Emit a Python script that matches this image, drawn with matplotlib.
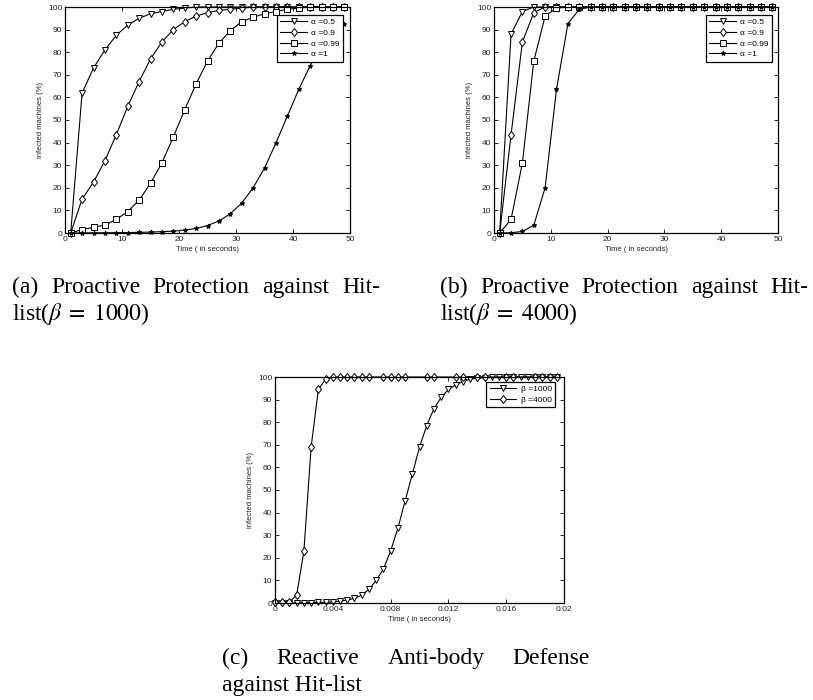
import numpy as np
import matplotlib
matplotlib.use("Agg")
import matplotlib.pyplot as plt

plt.rcParams['font.family'] = ['Liberation Sans', 'DejaVu Sans']
plt.rcParams['mathtext.fontset'] = 'stix'

# %% data
t_ab = list(range(1, 50, 2))
alpha_labels = ['\u03b1 =0.5', '\u03b1 =0.9', '\u03b1 =0.99', '\u03b1 =1']

a_05 = [0, 62, 73, 81, 87.5, 92, 95, 97, 98, 99, 99.5] + [100] * 14
a_09 = [0, 15, 22.5, 32, 43.5, 56, 67, 77, 84.5, 90, 93.5, 96, 97.5, 98.5, 99, 99.5] + [100] * 9
a_099 = [0, 1.5, 2.5, 3.5, 6, 9.5, 14.5, 22, 31, 42.5, 54.5, 66, 76, 84, 89.5, 93.5,
         95.5, 97, 98, 99, 99.5, 100, 100, 100, 100]
a_1 = [0, 0, 0.1, 0.1, 0.15, 0.2, 0.3, 0.4, 0.6, 0.8, 1.3, 2, 3.3, 5.3, 8.5, 13.2,
       20, 28.7, 39.8, 51.6, 63.5, 74, 83, 89, 92.5]

b_05 = [0, 88, 98] + [100] * 22
b_09 = [0, 43.5, 84.5, 97.5] + [100] * 21
b_099 = [0, 6, 31, 76, 96, 99.5] + [100] * 19
b_1 = [0, 0.1, 0.7, 3.4, 20, 63.5, 92.5, 99] + [100] * 17

t_c1 = [0, 0.0005, 0.001, 0.0015, 0.002, 0.0025, 0.003, 0.0035, 0.004, 0.0045,
        0.005, 0.0055, 0.006, 0.0065, 0.007, 0.0075, 0.008, 0.0085, 0.009, 0.0095,
        0.01, 0.0105, 0.011, 0.0115, 0.012, 0.0125, 0.013, 0.0135, 0.014, 0.0145,
        0.015, 0.0155, 0.016, 0.0165, 0.017, 0.0175, 0.018, 0.0185, 0.019, 0.0195]
c_1000 = [0, 0, 0, 0.05, 0.1, 0.15, 0.25, 0.35, 0.5, 0.8, 1.3, 2, 3.5, 6, 10, 15,
          23, 33, 45, 57, 69, 78.5, 86, 91, 94.5, 96.5, 98, 99, 99.5, 99.7, 99.8, 99.9] + [100] * 8
t_c4 = [0, 0.0005, 0.001, 0.0015, 0.002, 0.0025, 0.003, 0.0035, 0.004, 0.0045,
        0.005, 0.0055, 0.006, 0.0065, 0.0075, 0.008, 0.0085, 0.009, 0.0105, 0.011,
        0.0125, 0.013, 0.014, 0.0145, 0.016, 0.0165, 0.018, 0.0185, 0.019, 0.0195]
c_4000 = [0.3, 0.3, 0.5, 3.5, 23, 69, 94.5, 99] + [100] * 22

markers = ['v', 'd', 's', '*']

cap_a = ['(a)', 'Proactive', 'Protection', 'against', 'Hit-']
cap_a2 = r'list($\beta\;=\;1000$)'
cap_b = ['(b)', 'Proactive', 'Protection', 'against', 'Hit-']
cap_b2 = r'list($\beta\;=\;4000$)'
cap_c = ['(c)', 'Reactive', 'Anti-body', 'Defense']
cap_c2 = 'against Hit-list'

# %% figure
W, H = 813, 700
fig = plt.figure(figsize=(W / 100, H / 100), dpi=100)


def px_axes(x0, y0, x1, y1):
    return fig.add_axes([x0 / W, 1 - y1 / H, (x1 - x0) / W, (y1 - y0) / H])


def style(ax, xmax, xticks, xticklabels):
    ax.set_xlim(0, xmax)
    ax.set_ylim(0, 100)
    ax.set_xticks(xticks)
    ax.set_xticklabels(xticklabels)
    ax.set_yticks(np.arange(0, 101, 10))
    ax.tick_params(direction='in', length=3, width=0.6, labelsize=6,
                   top=True, right=True, pad=2, colors='black', labelcolor='#222222')
    for s in ax.spines.values():
        s.set_linewidth(0.9)
    ax.set_xlabel('Time ( in seconds)', fontsize=5.5, labelpad=2, color='#222222')
    ax.set_ylabel('infected machines (%)', fontsize=5.5, labelpad=3, color='#222222')


def plot_series(ax, x, y, m, label):
    star = m == '*'
    ax.plot(x, y, '-', color='black', lw=0.8, marker=m, markersize=3.5 if star else 4.3,
            markerfacecolor='black' if star else 'white', markeredgecolor='black',
            markeredgewidth=0.7, label=label, clip_on=False)


def legend(ax, anchor):
    leg = ax.legend(loc='upper right', bbox_to_anchor=anchor, borderaxespad=0,
                    fontsize=6, handlelength=3.2, handletextpad=0.5, labelspacing=0.35,
                    borderpad=0.4, fancybox=False, framealpha=1)
    leg.get_frame().set_edgecolor('black')
    leg.get_frame().set_linewidth(0.9)


# (a)
ax_a = px_axes(65, 7, 350, 233)
for y, m, lab in zip([a_05, a_09, a_099, a_1], markers, alpha_labels):
    plot_series(ax_a, t_ab, y, m, lab)
style(ax_a, 50, [0, 10, 20, 30, 40, 50], ['0', '10', '20', '30', '40', '50'])
legend(ax_a, (0.975, 0.965))

# (b)
ax_b = px_axes(494, 7, 778, 233)
for y, m, lab in zip([b_05, b_09, b_099, b_1], markers, alpha_labels):
    plot_series(ax_b, t_ab, y, m, lab)
style(ax_b, 50, [0, 10, 20, 30, 40, 50], ['0', '10', '20', '30', '40', '50'])
legend(ax_b, (0.979, 0.965))

# (c)
ax_c = px_axes(275, 377, 564, 603)
plot_series(ax_c, t_c1, c_1000, 'v', '\u03b2 =1000')
plot_series(ax_c, t_c4, c_4000, 'd', '\u03b2 =4000')
style(ax_c, 0.02, [0, 0.004, 0.008, 0.012, 0.016, 0.02],
      ['0', '0.004', '0.008', '0.012', '0.016', '0.02'])
legend(ax_c, (0.969, 0.978))

# %% captions: justified like the LaTeX subcaptions
CAP = dict(fontsize=17, family='Liberation Serif', ha='left', va='baseline')
renderer = fig.canvas.get_renderer()


def justified(words, x0, x1, y):
    txts = [fig.text(0, 1 - y / H, w, **CAP) for w in words]
    widths = [t.get_window_extent(renderer).width for t in txts]
    gap = (x1 - x0 - sum(widths)) / (len(words) - 1)
    x = x0
    for t, w in zip(txts, widths):
        t.set_x(x / W)
        x += w + gap


def plain(s, x0, y):
    fig.text(x0 / W, 1 - y / H, s, **CAP)


justified(cap_a, 12, 380, 293)
plain(cap_a2, 12, 320)
justified(cap_b, 440, 808, 293)
plain(cap_b2, 440, 320)
justified(cap_c, 222, 590, 664)
plain(cap_c2, 222, 691)

fig.savefig('out.png', dpi=100)
